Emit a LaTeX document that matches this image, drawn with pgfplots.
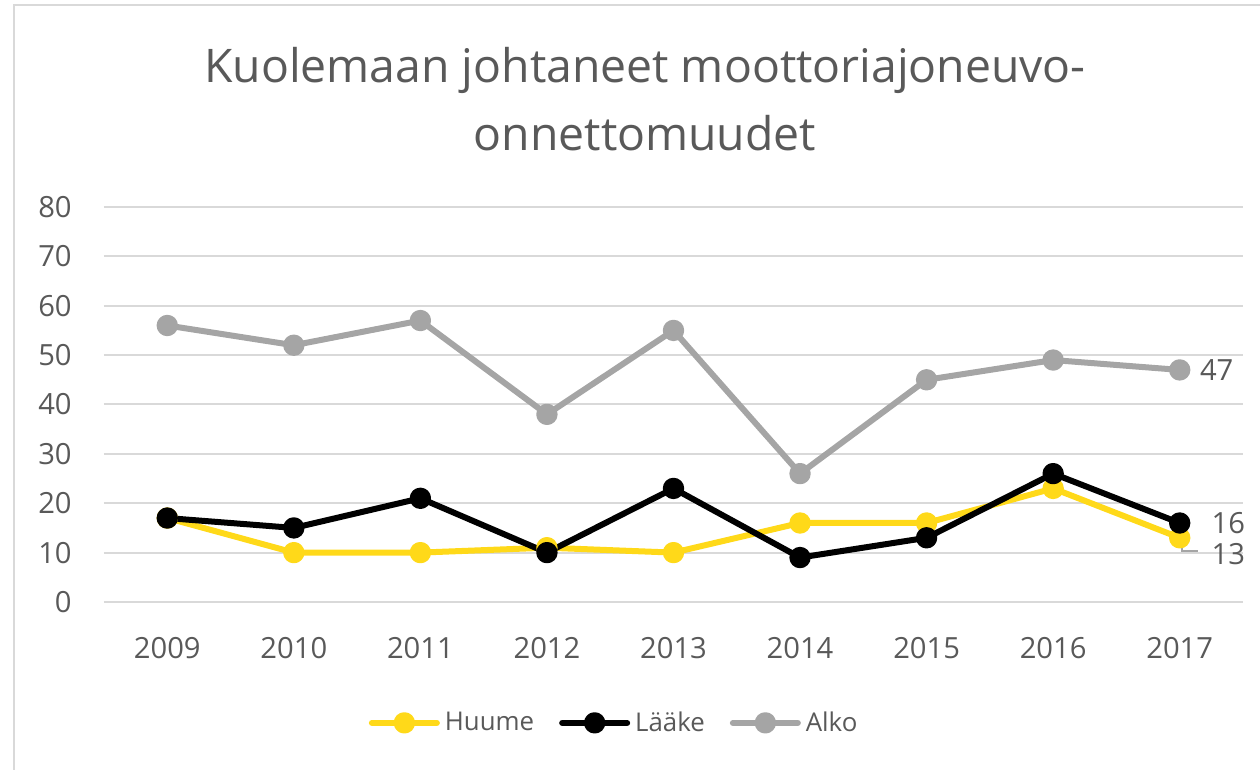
\documentclass[border=0pt]{standalone}
\usepackage{pgfplots}
\pgfplotsset{compat=1.18}
\usepackage{fontspec}
\setmainfont{Open Sans}
\definecolor{huume}{RGB}{255,217,25}
\definecolor{alko}{RGB}{165,165,165}
\definecolor{gridc}{RGB}{217,217,217}
\definecolor{txt}{RGB}{89,89,89}
\begin{document}
\begin{tikzpicture}
\useasboundingbox (0,0) rectangle (756pt,462pt);
\draw[gridc, line width=1.2pt] (8.4pt,0pt) -- (8.4pt,459pt) -- (756pt,459pt);
\node[text=txt, font=\fontsize{27.8}{33}\selectfont, inner sep=0pt] at (387pt,420pt) {Kuolemaan johtaneet moottoriajoneuvo-};
\node[text=txt, font=\fontsize{27.8}{33}\selectfont, inner sep=0pt] at (387pt,382.2pt) {onnettomuudet};
\begin{axis}[
  at={(62.4pt,100.8pt)}, anchor=south west,
  scale only axis, width=683.4pt, height=237pt,
  xmin=-0.5, xmax=8.5, ymin=0, ymax=80,
  xtick={0,...,8},
  xticklabels={2009,2010,2011,2012,2013,2014,2015,2016,2017},
  ytick={0,10,...,80},
  ymajorgrids, grid style={gridc, line width=1.2pt},
  axis line style={draw=none},
  major tick length=0pt,
  /pgf/number format/assume math mode=true,
  tick label style={text=txt, font=\fontsize{17.5}{21}\selectfont, inner sep=0pt},
  yticklabel style={anchor=east, xshift=-19.2pt},
  xticklabel style={anchor=north, yshift=-21pt},
  clip=false,
  legend columns=3,
  legend style={draw=none, fill=none, at={(0.447,-0.306)}, anchor=center,
    font=\fontsize{15.5}{19}\selectfont, text=txt,
    /tikz/every odd column/.append style={column sep=3pt},
    /tikz/every even column/.append style={column sep=15pt},
    nodes={inner sep=0pt}},
  legend image code/.code={\draw[mark repeat=2,mark phase=2,#1,line cap=round] plot coordinates {(0pt,0pt) (19.5pt,0pt) (39pt,0pt)};},
  every axis plot/.append style={line width=3.6pt, line join=round, mark=*, mark size=4.6pt, mark options={solid}},
]
\addplot[huume, mark options={fill=huume}] coordinates {(0,17) (1,10) (2,10) (3,11) (4,10) (5,16) (6,16) (7,23) (8,13)};
\addlegendentry{Huume}
\addplot[black, mark options={fill=black}] coordinates {(0,17) (1,15) (2,21) (3,10) (4,23) (5,9) (6,13) (7,26) (8,16)};
\addlegendentry{Lääke}
\addplot[alko, mark options={fill=alko}] coordinates {(0,56) (1,52) (2,57) (3,38) (4,55) (5,26) (6,45) (7,49) (8,47)};
\addlegendentry{Alko}
\node[anchor=west, text=txt, font=\fontsize{17.5}{21}\selectfont, inner sep=0pt, xshift=12pt] at (axis cs:8,47) {47};
\node[anchor=west, text=txt, font=\fontsize{17.5}{21}\selectfont, inner sep=0pt, xshift=19pt] at (axis cs:8,16) {16};
\node[anchor=west, text=txt, font=\fontsize{17.5}{21}\selectfont, inner sep=0pt, xshift=19pt, yshift=-10pt] at (axis cs:8,13) {13};
\draw[alko, line width=1pt] ([xshift=1.2pt,yshift=-1.2pt]axis cs:8,13) -- ([xshift=1.2pt,yshift=-7.8pt]axis cs:8,13) -- ([xshift=11pt,yshift=-7.8pt]axis cs:8,13);
\end{axis}
\end{tikzpicture}
\end{document}
